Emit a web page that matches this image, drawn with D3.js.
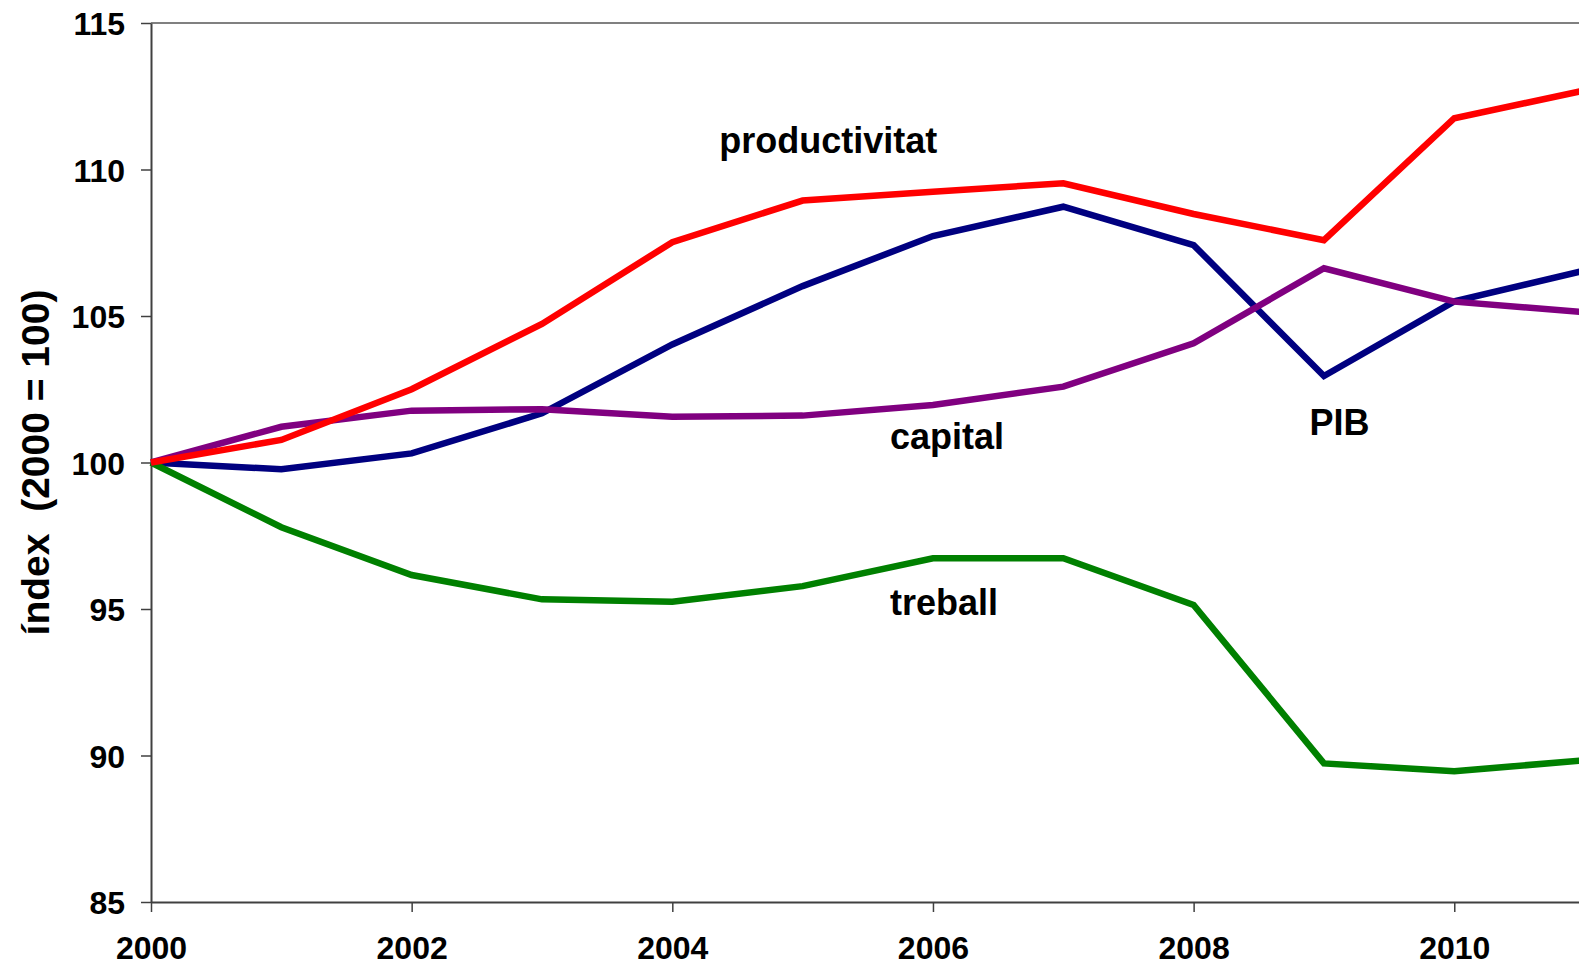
<!DOCTYPE html>
<html>
<head>
<meta charset="utf-8">
<script src="https://cdn.jsdelivr.net/npm/d3@7"></script>
<style>
  html, body { margin: 0; padding: 0; background: #fff; overflow: hidden; }
  svg { display: block; font-family: "Liberation Sans", Arial, sans-serif; }
</style>
</head>
<body>
<svg id="chart" width="1579" height="969"></svg>
<script>
// ---- data ----
const years = [2000, 2001, 2002, 2003, 2004, 2005, 2006, 2007, 2008, 2009, 2010, 2011];
const pib = [100, 99.77, 100.31, 101.68, 104.03, 106.02, 107.73, 108.73, 107.42, 102.95, 105.5, 106.55];
const capital = [100, 101.22, 101.77, 101.82, 101.56, 101.60, 101.96, 102.59, 104.07, 106.63, 105.49, 105.13];
const productivitat = [100, 100.77, 102.50, 104.73, 107.52, 108.94, 109.24, 109.53, 108.48, 107.59, 111.75, 112.70];
const treball = [100, 97.79, 96.16, 95.33, 95.25, 95.78, 96.73, 96.73, 95.14, 89.73, 89.46, 89.84];
const xTicks = [2000, 2002, 2004, 2006, 2008, 2010];
const yTicks = [85, 90, 95, 100, 105, 110, 115];
const yTitle = "índex  (2000 = 100)";
const seriesLabels = [
  { text: "productivitat", year: 2004.36, value: 110.56 },
  { text: "capital", year: 2005.67, value: 100.46 },
  { text: "PIB", year: 2008.89, value: 100.95 },
  { text: "treball", year: 2005.67, value: 94.8 }
];

// ---- layout ----
const svg = d3.select("#chart");
const mLeft = 151, mRight = 1584.6, mTop = 23, mBottom = 902;
const x = d3.scaleLinear().domain([2000, 2011]).range([mLeft, mRight]);
const y = d3.scaleLinear().domain([85, 115]).range([mBottom, mTop]);

// top border
svg.append("line")
  .attr("x1", mLeft).attr("x2", 1579)
  .attr("y1", mTop).attr("y2", mTop)
  .attr("stroke", "#808080").attr("stroke-width", 2);

// y axis
const yAxis = svg.append("g")
  .attr("transform", `translate(${mLeft},0)`)
  .call(d3.axisLeft(y).tickValues(yTicks).tickSize(10).tickSizeOuter(0).tickPadding(16).tickFormat(d3.format("d")));
yAxis.select(".domain").attr("stroke", "#404040").attr("stroke-width", 2);
yAxis.selectAll(".tick line").attr("stroke", "#404040").attr("stroke-width", 1.5);
yAxis.selectAll(".tick text")
  .attr("fill", "#000").attr("font-size", 32).attr("font-weight", "bold")
  .attr("font-family", "'Liberation Sans', Arial, sans-serif")
  .attr("dy", "0.36em");

// x axis
const xAxis = svg.append("g")
  .attr("transform", `translate(0,${mBottom})`)
  .call(d3.axisBottom(x).tickValues(xTicks).tickSize(10).tickSizeOuter(0).tickFormat(d3.format("d")));
xAxis.select(".domain").attr("stroke", "#404040").attr("stroke-width", 2);
xAxis.selectAll(".tick line").attr("stroke", "#404040").attr("stroke-width", 1.5);
xAxis.selectAll(".tick text")
  .attr("fill", "#000").attr("font-size", 32).attr("font-weight", "bold")
  .attr("font-family", "'Liberation Sans', Arial, sans-serif")
  .attr("y", 57).attr("dy", 0);

// y title
svg.append("text")
  .attr("transform", `translate(49,${y(100)}) rotate(-90)`)
  .attr("text-anchor", "middle")
  .attr("font-size", 39).attr("font-weight", "bold")
  .attr("fill", "#000")
  .style("white-space", "pre")
  .text(yTitle);

// lines
const series = [
  { name: "PIB", values: pib, color: "#000080" },
  { name: "treball", values: treball, color: "#008000" },
  { name: "capital", values: capital, color: "#800080" },
  { name: "productivitat", values: productivitat, color: "#FF0000" }
];
const line = d3.line().x((d, i) => x(years[i])).y(d => y(d));
svg.append("g").selectAll("path")
  .data(series)
  .join("path")
  .attr("d", d => line(d.values))
  .attr("fill", "none")
  .attr("stroke", d => d.color)
  .attr("stroke-width", 6.5)
  .attr("stroke-linejoin", "miter");

// labels
svg.append("g").selectAll("text")
  .data(seriesLabels)
  .join("text")
  .attr("x", d => x(d.year))
  .attr("y", d => y(d.value))
  .attr("font-size", 36).attr("font-weight", "bold")
  .attr("fill", "#000")
  .text(d => d.text);
</script>
</body>
</html>
